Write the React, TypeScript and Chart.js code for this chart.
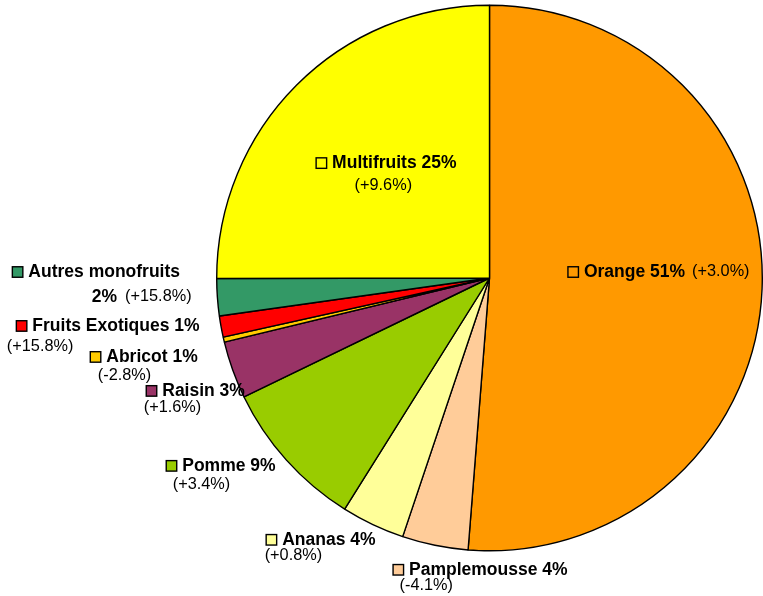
import React, { useEffect, useRef } from "react";
import { Chart, registerables } from "chart.js";

Chart.register(...registerables);

const categories = [
  "Orange",
  "Pamplemousse",
  "Ananas",
  "Pomme",
  "Raisin",
  "Abricot",
  "Fruits Exotiques",
  "Autres monofruits",
  "Multifruits",
];
const shares = [51.2, 3.9, 3.75, 8.9, 3.4, 0.3, 1.25, 2.2, 25.0];
const shareLabels = ["51%", "4%", "4%", "9%", "3%", "1%", "1%", "2%", "25%"];
const changeLabels = [
  "(+3.0%)",
  "(-4.1%)",
  "(+0.8%)",
  "(+3.4%)",
  "(+1.6%)",
  "(-2.8%)",
  "(+15.8%)",
  "(+15.8%)",
  "(+9.6%)",
];
const colors = [
  "#FF9900",
  "#FFCC99",
  "#FFFF99",
  "#99CC00",
  "#993366",
  "#FFCC00",
  "#FF0000",
  "#339966",
  "#FFFF00",
];

// label placement relative to pie center, in units of radius
// brk: 0 = one line, 1 = change on second line, 2 = share+change on second line
const R0 = 273;
const CX0 = 490;
const CY0 = 278;
const labelLayout = [
  { brk: 0, l1: [568, 272], l2: [0, 0] },
  { brk: 1, l1: [393, 570], l2: [400, 586] },
  { brk: 1, l1: [266, 540], l2: [265, 556] },
  { brk: 1, l1: [166, 466], l2: [173, 485] },
  { brk: 1, l1: [146, 391], l2: [144, 408] },
  { brk: 1, l1: [90, 357], l2: [98, 376] },
  { brk: 1, l1: [16, 326], l2: [7, 347] },
  { brk: 2, l1: [12, 272], l2: [92, 297] },
  { brk: 1, l1: [316, 163], l2: [355, 185] },
].map((o) => ({
  brk: o.brk,
  l1: [(o.l1[0] - CX0) / R0, (o.l1[1] - CY0) / R0],
  l2: [(o.l2[0] - CX0) / R0, (o.l2[1] - CY0) / R0],
}));

const FONT = '"Liberation Sans", Arial, sans-serif';

const labelPlugin = {
  id: "sliceLabels",
  afterDraw(chart: any) {
    const meta = chart.getDatasetMeta(0);
    const ctx = chart.ctx as CanvasRenderingContext2D;
    const arc0 = meta.data[0] as any;
    if (!arc0) return;
    const cx = arc0.x;
    const cy = arc0.y;
    const r = arc0.outerRadius;
    const s = r / R0;
    ctx.save();
    ctx.textBaseline = "middle";
    ctx.textAlign = "left";
    ctx.fillStyle = "#000";
    const bold = `bold ${(17.5 * s).toFixed(1)}px ${FONT}`;
    const normal = `${(16.3 * s).toFixed(1)}px ${FONT}`;
    categories.forEach((name, i) => {
      const lay = labelLayout[i];
      let x = cx + lay.l1[0] * r;
      let y = cy + lay.l1[1] * r;
      // legend key
      const bs = 10.5 * s;
      ctx.fillStyle = colors[i];
      ctx.fillRect(x + 0.5, y - bs / 2, bs, bs);
      ctx.strokeStyle = "#000";
      ctx.lineWidth = 1.4;
      ctx.strokeRect(x + 0.5, y - bs / 2, bs, bs);
      ctx.fillStyle = "#000";
      x += bs + 6 * s;
      const parts: { t: string; f: string; gap: number }[] = [
        { t: name, f: bold, gap: 0 },
        { t: " " + shareLabels[i], f: bold, gap: 0 },
        { t: changeLabels[i], f: normal, gap: 7 * s },
      ];
      const breakAt = lay.brk === 0 ? -1 : lay.brk === 1 ? 2 : 1;
      parts.forEach((p, k) => {
        let t = p.t;
        let gap = p.gap;
        if (k === breakAt) {
          x = cx + lay.l2[0] * r;
          y = cy + lay.l2[1] * r;
          t = t.trimStart();
          gap = 0;
        }
        if (lay.brk === 2 && k === 2) gap = 8 * s;
        ctx.font = p.f;
        x += gap;
        ctx.fillText(t, x, y);
        x += ctx.measureText(t).width;
      });
    });
    ctx.restore();
  },
};

export default function App() {
  const ref = useRef<HTMLCanvasElement | null>(null);
  useEffect(() => {
    if (!ref.current) return;
    const chart = new Chart(ref.current, {
      type: "pie",
      data: {
        labels: categories,
        datasets: [
          {
            data: shares,
            backgroundColor: colors,
            borderColor: "#000",
            borderWidth: 1.4,
          },
        ],
      },
      options: {
        animation: false,
        responsive: true,
        maintainAspectRatio: false,
        layout: { padding: { left: 216, top: 4, right: 0, bottom: 44 } },
        plugins: {
          legend: { display: false },
          tooltip: { enabled: false },
        },
      },
      plugins: [labelPlugin],
    });
    return () => chart.destroy();
  }, []);
  return (
    <div
      style={{
        position: "fixed",
        left: 0,
        top: 0,
        width: 763,
        height: 596,
        background: "#fff",
      }}
    >
      <canvas ref={ref} />
    </div>
  );
}
